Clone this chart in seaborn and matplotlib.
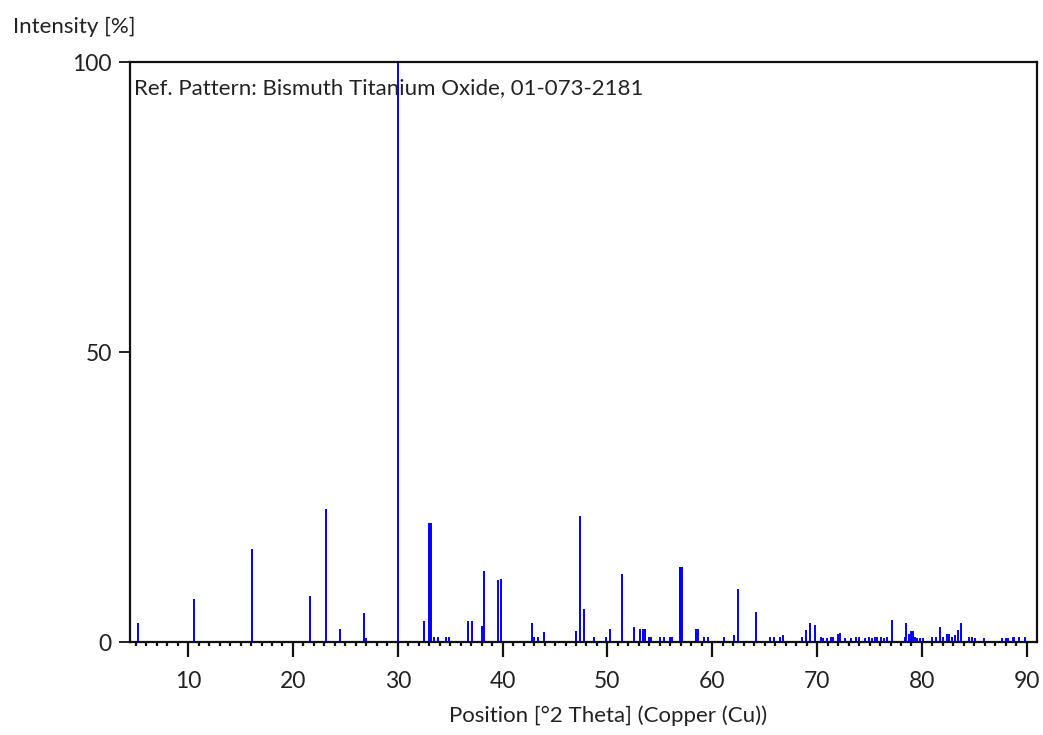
import numpy as np
import pandas as pd
import seaborn as sns
from matplotlib import pyplot as plt
from matplotlib.ticker import MultipleLocator

# reference pattern sticks: position (deg 2theta) and relative intensity (%)
positions = [5.17, 10.57, 16.1, 21.64, 23.17, 24.48, 26.77, 26.95, 30.04, 32.5,
             32.95, 33.05, 33.15, 33.45, 33.86, 34.6, 34.85, 36.72, 37.1, 38.05, 38.22,
             39.6, 39.8, 42.8, 43.0, 43.4, 43.97, 47.0, 47.4, 47.78, 48.72,
             49.85, 50.25, 51.4, 52.55, 53.1, 53.4, 53.6, 53.95, 54.15, 55.0,
             55.4, 55.95, 56.2, 56.95, 57.05, 57.15, 58.45, 58.65, 59.24, 59.6, 61.13,
             62.1, 62.48, 64.16, 65.5, 65.87, 66.45, 66.7, 68.6, 68.95, 69.35,
             69.75, 70.35, 70.55, 70.9, 71.3, 71.55, 71.95, 72.15, 72.7, 73.2,
             73.75, 74.0, 74.57, 74.95, 75.2, 75.55, 75.75, 76.05, 76.4, 76.7,
             77.15, 78.35, 78.5, 78.75, 78.95, 79.1, 79.3, 79.56, 79.8, 80.1,
             81.0, 81.35, 81.73, 82.05, 82.35, 82.6, 82.84, 83.2, 83.45, 83.7,
             84.5, 84.8, 85.1, 85.9, 87.6, 88.0, 88.2, 88.65, 88.8, 89.3,
             89.85]
intensities = [3.4, 7.5, 16.1, 7.9, 23.0, 2.3, 5.1, 0.8, 100, 3.7,
               20.6, 20.6, 20.6, 1.0, 1.0, 1.0, 1.0, 3.7, 3.7, 2.8, 12.3,
               10.7, 11.0, 3.4, 1.0, 1.0, 1.7, 2.0, 21.7, 5.8, 1.0,
               1.0, 2.3, 11.7, 2.6, 2.3, 2.3, 2.3, 1.0, 1.0, 1.0,
               1.0, 1.0, 1.0, 13.0, 13.0, 13.0, 2.3, 2.3, 1.0, 1.0, 1.0,
               1.2, 9.2, 5.3, 1.0, 1.0, 1.0, 1.3, 1.0, 2.2, 3.4,
               3.0, 0.9, 0.7, 0.7, 0.9, 0.9, 1.4, 1.6, 0.7, 0.7,
               1.0, 1.0, 0.7, 0.9, 0.7, 0.9, 0.9, 0.9, 0.7, 0.9,
               3.9, 0.9, 3.3, 1.5, 2.0, 2.0, 1.0, 0.7, 0.7, 0.7,
               0.9, 1.0, 2.6, 0.9, 1.5, 1.5, 1.0, 1.2, 2.2, 3.4,
               1.0, 1.0, 0.8, 0.7, 0.7, 0.8, 0.8, 0.9, 0.9, 0.9,
               1.0]
y_ticks = [0, 50, 100]
x_ticks = [10, 20, 30, 40, 50, 60, 70, 80, 90]

df = pd.DataFrame({"pos": positions, "I": intensities})

sns.set_theme(style="ticks")
plt.rcParams['font.family'] = ['Liberation Sans Narrow', 'DejaVu Sans Condensed', 'Lato', 'DejaVu Sans']
txt_color = "#222222"

fig = plt.figure(figsize=(10.43, 7.35), dpi=100)
ax = fig.add_axes([0.1246, 0.1261, 0.8694, 0.7891])

ax.vlines(df["pos"], 0, df["I"], color="#0000ff", lw=1.4)

ax.set_xlim(4.45, 90.95)
ax.set_ylim(0, 100)
ax.set_xticks(x_ticks)
ax.set_yticks(y_ticks)
ax.xaxis.set_minor_locator(MultipleLocator(1))
ax.tick_params(axis="x", which="major", length=11, width=1.6, pad=10,
               labelsize=16.5, labelcolor=txt_color, color="#111111")
ax.tick_params(axis="x", which="minor", length=3, width=1.6, color="#111111")
ax.tick_params(axis="y", which="major", length=8, width=1.3, pad=5,
               labelsize=16.5, labelcolor=txt_color, color="#111111")
for s in ax.spines.values():
    s.set_linewidth(1.6)
    s.set_color("#111111")

ax.text(0.004, 0.956, "Ref. Pattern: Bismuth Titanium Oxide, 01-073-2181",
        transform=ax.transAxes, ha="left", va="center", fontsize=16, color=txt_color)
fig.text(13 / 1043, 1 - 27 / 735, "Intensity [%]", ha="left", va="center",
         fontsize=16, color=txt_color)
fig.text(608 / 1043, 1 - 716 / 735, "Position [°2 Theta] (Copper (Cu))",
         ha="center", va="center", fontsize=16, color=txt_color)

plt.savefig("out.png", dpi=100)
plt.close()
